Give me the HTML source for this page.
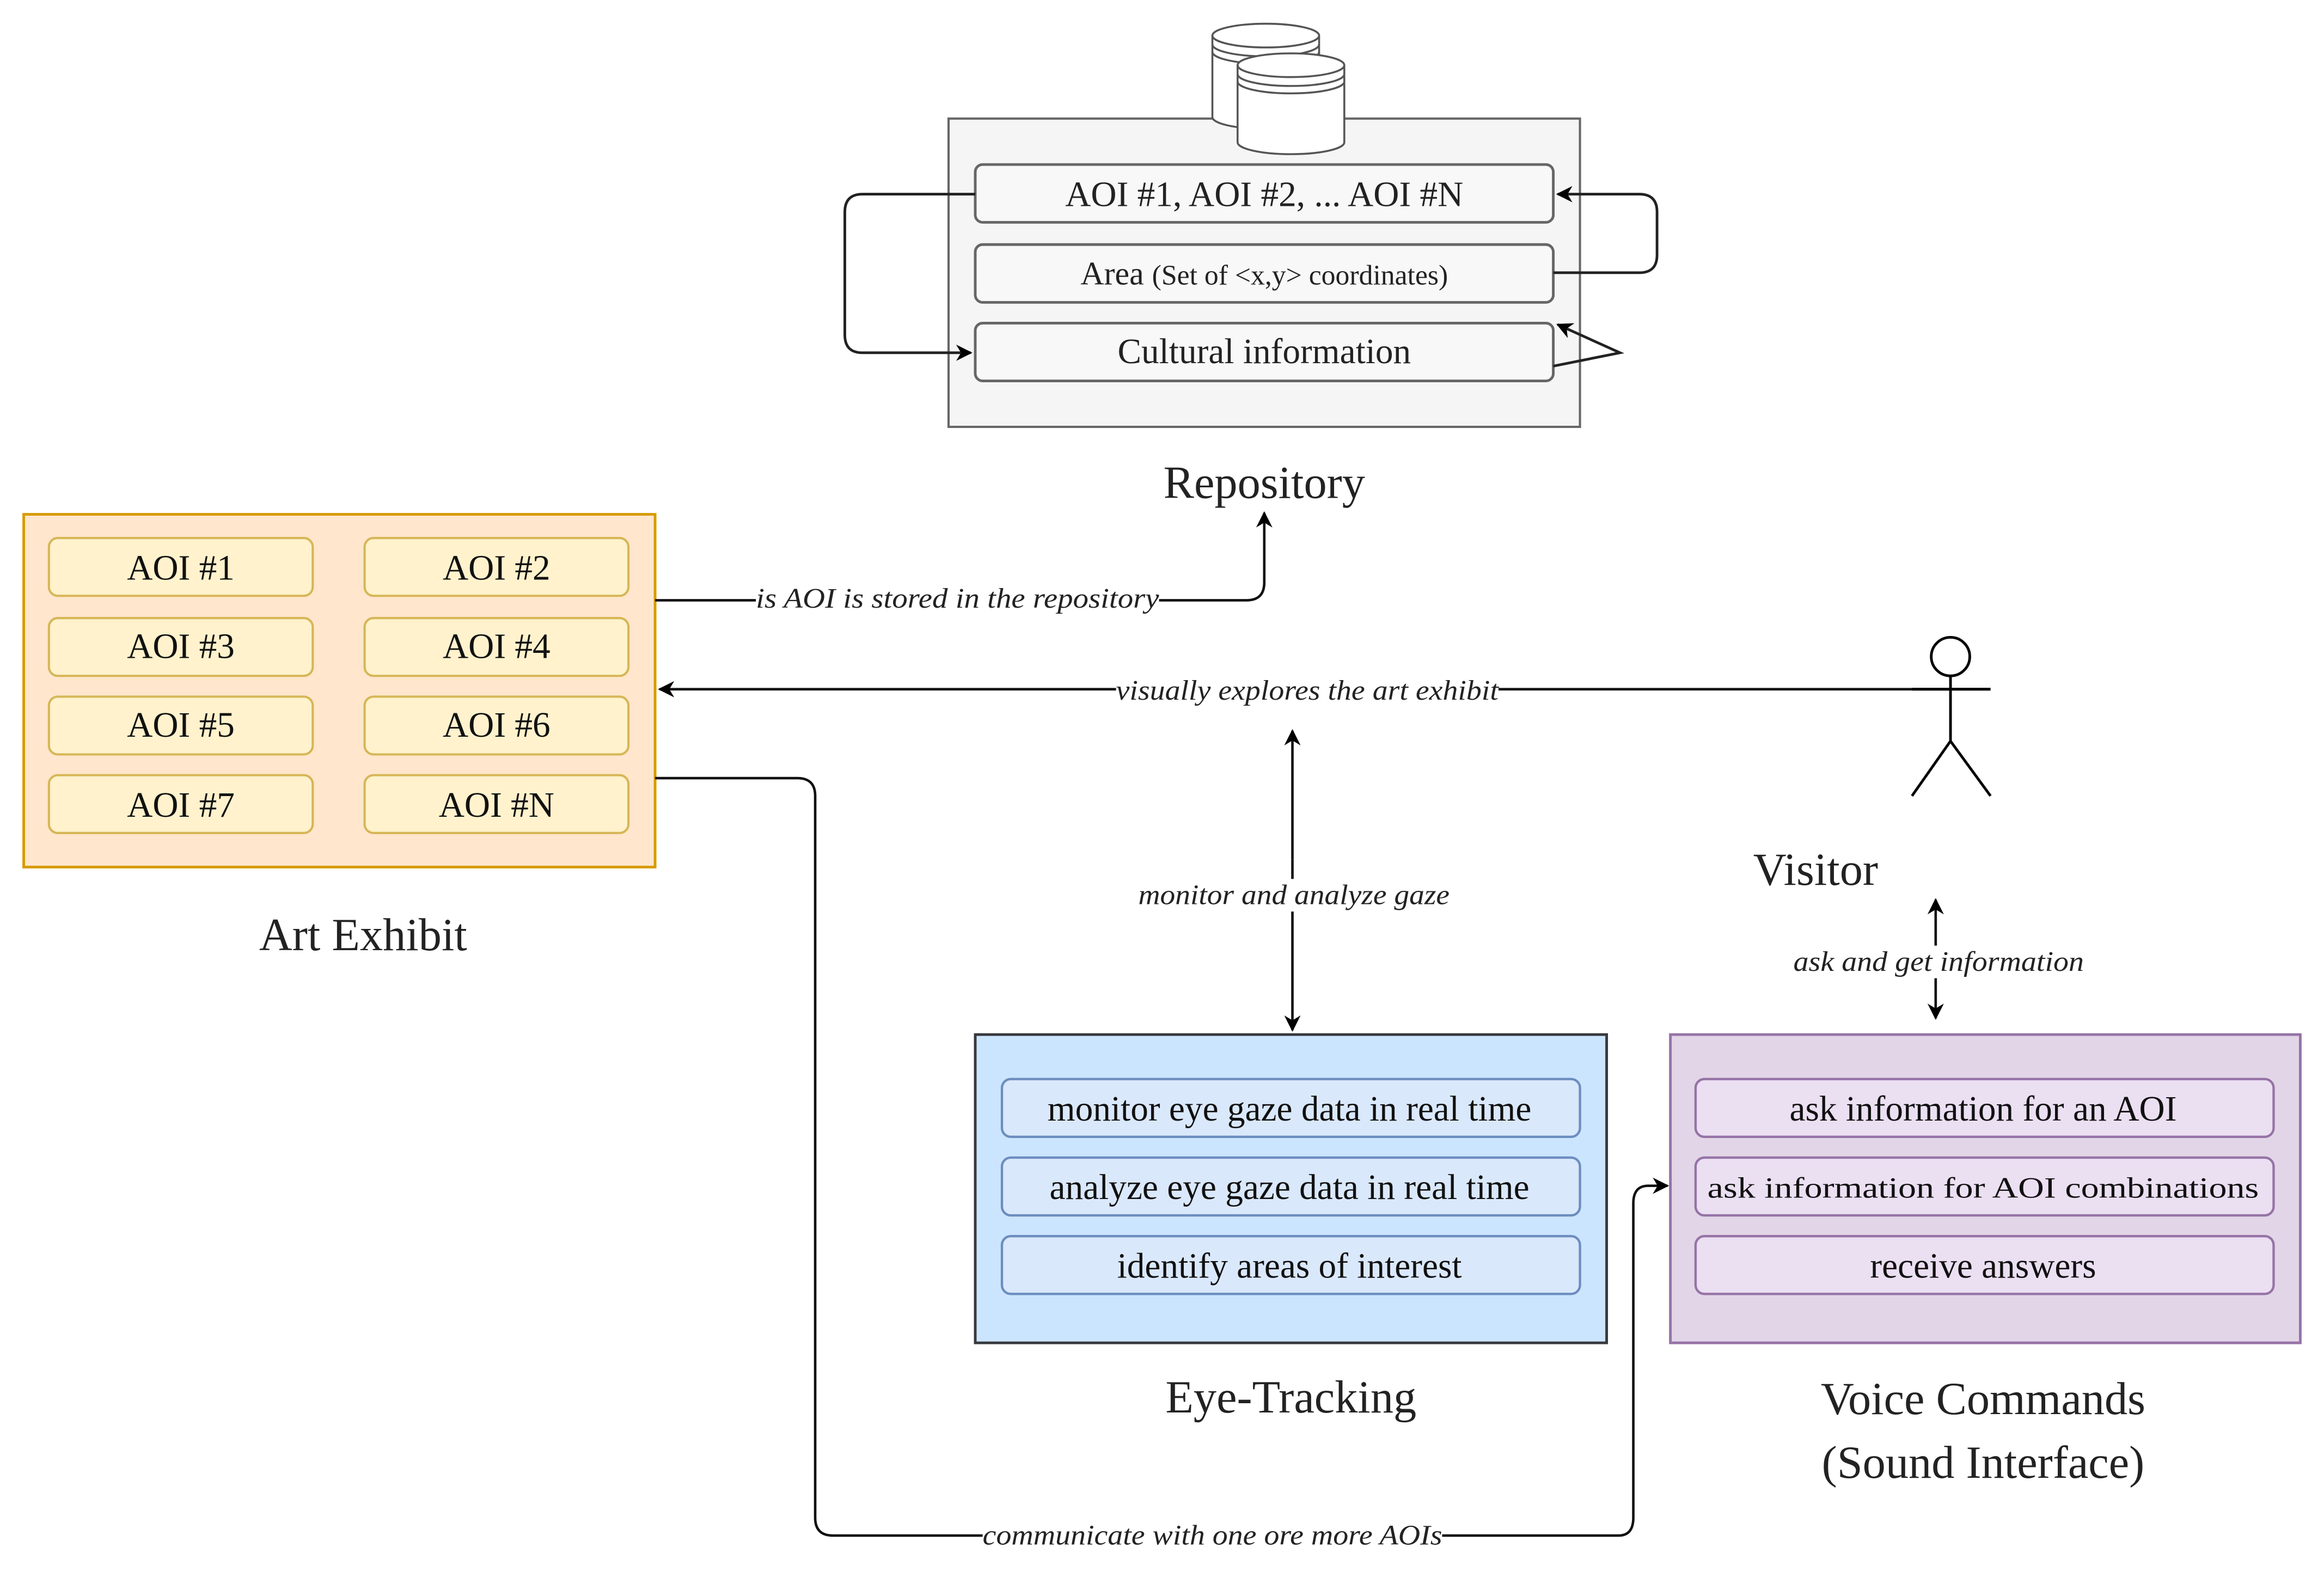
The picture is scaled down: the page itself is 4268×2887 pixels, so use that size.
<!DOCTYPE html>
<html><head><meta charset="utf-8"><style>html,body{margin:0;padding:0;background:#fff}svg{display:block}</style></head>
<body>
<svg width="4268" height="2887" viewBox="0 0 1568 1060.6" preserveAspectRatio="none" xmlns="http://www.w3.org/2000/svg" font-family="'Liberation Serif', serif">
<defs>
<marker id="ah" viewBox="0 0 10 10" refX="9" refY="5" markerWidth="11" markerHeight="11" orient="auto-start-reverse" markerUnits="userSpaceOnUse"><path d="M0,0 L10,5 L0,10 L3,5 z" fill="#000"/></marker>
</defs>
<rect x="640" y="80" width="426" height="208" fill="#f5f5f5" stroke="#666" stroke-width="1.5"/>
<g fill="#fff" stroke="#555" stroke-width="1.3">
<path d="M818,24 v55 a36,8 0 0 0 72,0 v-55"/><ellipse cx="854" cy="24" rx="36" ry="8"/>
<path d="M818,30 a36,8 0 0 0 72,0 M818,35 a36,8 0 0 0 72,0" fill="none"/>
<path d="M835,44 v52 a36,8 0 0 0 72,0 v-52"/><ellipse cx="871" cy="44" rx="36" ry="8"/>
<path d="M835,50 a36,8 0 0 0 72,0 M835,55 a36,8 0 0 0 72,0" fill="none"/>
</g>
<g fill="#f8f8f8" stroke="#666" stroke-width="1.8">
<rect x="658" y="111" width="390" height="39" rx="5"/>
<rect x="658" y="165" width="390" height="39" rx="5"/>
<rect x="658" y="218" width="390" height="39" rx="5"/>
</g>
<g font-size="24" text-anchor="middle" fill="#222">
<text x="853" y="139">AOI #1, AOI #2, ... AOI #N</text>
<text x="853" y="192" font-size="22">Area <tspan font-size="19">(Set of &lt;x,y&gt; coordinates)</tspan></text>
<text x="853" y="245">Cultural information</text>
</g>
<text x="853" y="336" font-size="31" text-anchor="middle" fill="#222">Repository</text>
<g fill="none" stroke="#222" stroke-width="1.8">
<path d="M658,131 H582 Q570,131 570,143 V226 Q570,238 582,238 H655" marker-end="url(#ah)"/>
<path d="M1048,184 H1106 Q1118,184 1118,172 V143 Q1118,131 1106,131 H1051" marker-end="url(#ah)"/>
<path d="M1048,247 L1093,238 L1051,219" marker-end="url(#ah)"/>
</g>
<rect x="16" y="347" width="426" height="238" fill="#ffe6cc" stroke="#d79b00" stroke-width="1.8"/>
<g fill="#fff2cc" stroke="#d6b656" stroke-width="1.5">
<rect x="33" y="363" width="178" height="39" rx="6"/><rect x="246" y="363" width="178" height="39" rx="6"/>
<rect x="33" y="417" width="178" height="39" rx="6"/><rect x="246" y="417" width="178" height="39" rx="6"/>
<rect x="33" y="470" width="178" height="39" rx="6"/><rect x="246" y="470" width="178" height="39" rx="6"/>
<rect x="33" y="523" width="178" height="39" rx="6"/><rect x="246" y="523" width="178" height="39" rx="6"/>
</g>
<g font-size="24" text-anchor="middle" fill="#111">
<text x="122" y="391">AOI #1</text><text x="335" y="391">AOI #2</text>
<text x="122" y="444">AOI #3</text><text x="335" y="444">AOI #4</text>
<text x="122" y="497">AOI #5</text><text x="335" y="497">AOI #6</text>
<text x="122" y="551">AOI #7</text><text x="335" y="551">AOI #N</text>
</g>
<text x="245" y="641" font-size="31" text-anchor="middle" fill="#222">Art Exhibit</text>
<g fill="none" stroke="#111" stroke-width="1.7">
<path d="M442,405 H841 Q853,405 853,393 V346" marker-end="url(#ah)"/>
<path d="M1343,465 H445" marker-end="url(#ah)"/>
<path d="M872,580 V493" marker-end="url(#ah)"/>
<path d="M872,580 V695" marker-end="url(#ah)"/>
<path d="M1306,650 V607" marker-end="url(#ah)"/>
<path d="M1306,650 V687" marker-end="url(#ah)"/>
<path d="M442,525 H538 Q550,525 550,537 V1024 Q550,1036 562,1036 H1092 Q1102,1036 1102,1024 V812 Q1102,800 1112,800 H1125" marker-end="url(#ah)"/>
</g>
<g font-size="19" font-style="italic" text-anchor="middle" fill="#222">
<rect x="510" y="393" width="272" height="22" fill="#fff"/>
<text x="646" y="410" textLength="272" lengthAdjust="spacingAndGlyphs">is AOI is stored in the repository</text>
<rect x="753" y="454" width="258" height="22" fill="#fff"/>
<text x="882" y="472" textLength="258" lengthAdjust="spacingAndGlyphs">visually explores the art exhibit</text>
<rect x="768" y="593" width="210" height="22" fill="#fff"/>
<text x="873" y="610" textLength="210" lengthAdjust="spacingAndGlyphs">monitor and analyze gaze</text>
<rect x="1210" y="638" width="196" height="22" fill="#fff"/>
<text x="1308" y="655" textLength="196" lengthAdjust="spacingAndGlyphs">ask and get information</text>
<rect x="663" y="1025" width="310" height="22" fill="#fff"/>
<text x="818" y="1042" textLength="310" lengthAdjust="spacingAndGlyphs">communicate with one ore more AOIs</text>
</g>
<g fill="none" stroke="#000" stroke-width="1.8">
<circle cx="1316" cy="443" r="13" fill="#fff"/>
<path d="M1316,456 V500 M1290,465 H1343 M1316,500 L1290,537 M1316,500 L1343,537"/>
</g>
<text x="1225" y="597" font-size="31" text-anchor="middle" fill="#222">Visitor</text>
<rect x="658" y="698" width="426" height="208" fill="#cce5ff" stroke="#36393d" stroke-width="1.8"/>
<g fill="#dae8fc" stroke="#6c8ebf" stroke-width="1.6">
<rect x="676" y="728" width="390" height="39" rx="6"/>
<rect x="676" y="781" width="390" height="39" rx="6"/>
<rect x="676" y="834" width="390" height="39" rx="6"/>
</g>
<g font-size="24" text-anchor="middle" fill="#111">
<text x="870" y="756">monitor eye gaze data in real time</text>
<text x="870" y="809">analyze eye gaze data in real time</text>
<text x="870" y="862">identify areas of interest</text>
</g>
<text x="871" y="953" font-size="31" text-anchor="middle" fill="#222">Eye-Tracking</text>
<rect x="1127" y="698" width="425" height="208" fill="#e1d5e7" stroke="#9673a6" stroke-width="1.8"/>
<g fill="#ebdff2" stroke="#9673a6" stroke-width="1.6">
<rect x="1144" y="728" width="390" height="39" rx="6"/>
<rect x="1144" y="781" width="390" height="39" rx="6"/>
<rect x="1144" y="834" width="390" height="39" rx="6"/>
</g>
<g font-size="24" text-anchor="middle" fill="#111">
<text x="1338" y="756">ask information for an AOI</text>
<text x="1338" y="808" font-size="20" textLength="372" lengthAdjust="spacingAndGlyphs">ask information for AOI combinations</text>
<text x="1338" y="862">receive answers</text>
</g>
<text x="1338" y="954" font-size="31" text-anchor="middle" fill="#222">Voice Commands</text>
<text x="1338" y="997" font-size="31" text-anchor="middle" fill="#222">(Sound Interface)</text>
</svg>
</body></html>
